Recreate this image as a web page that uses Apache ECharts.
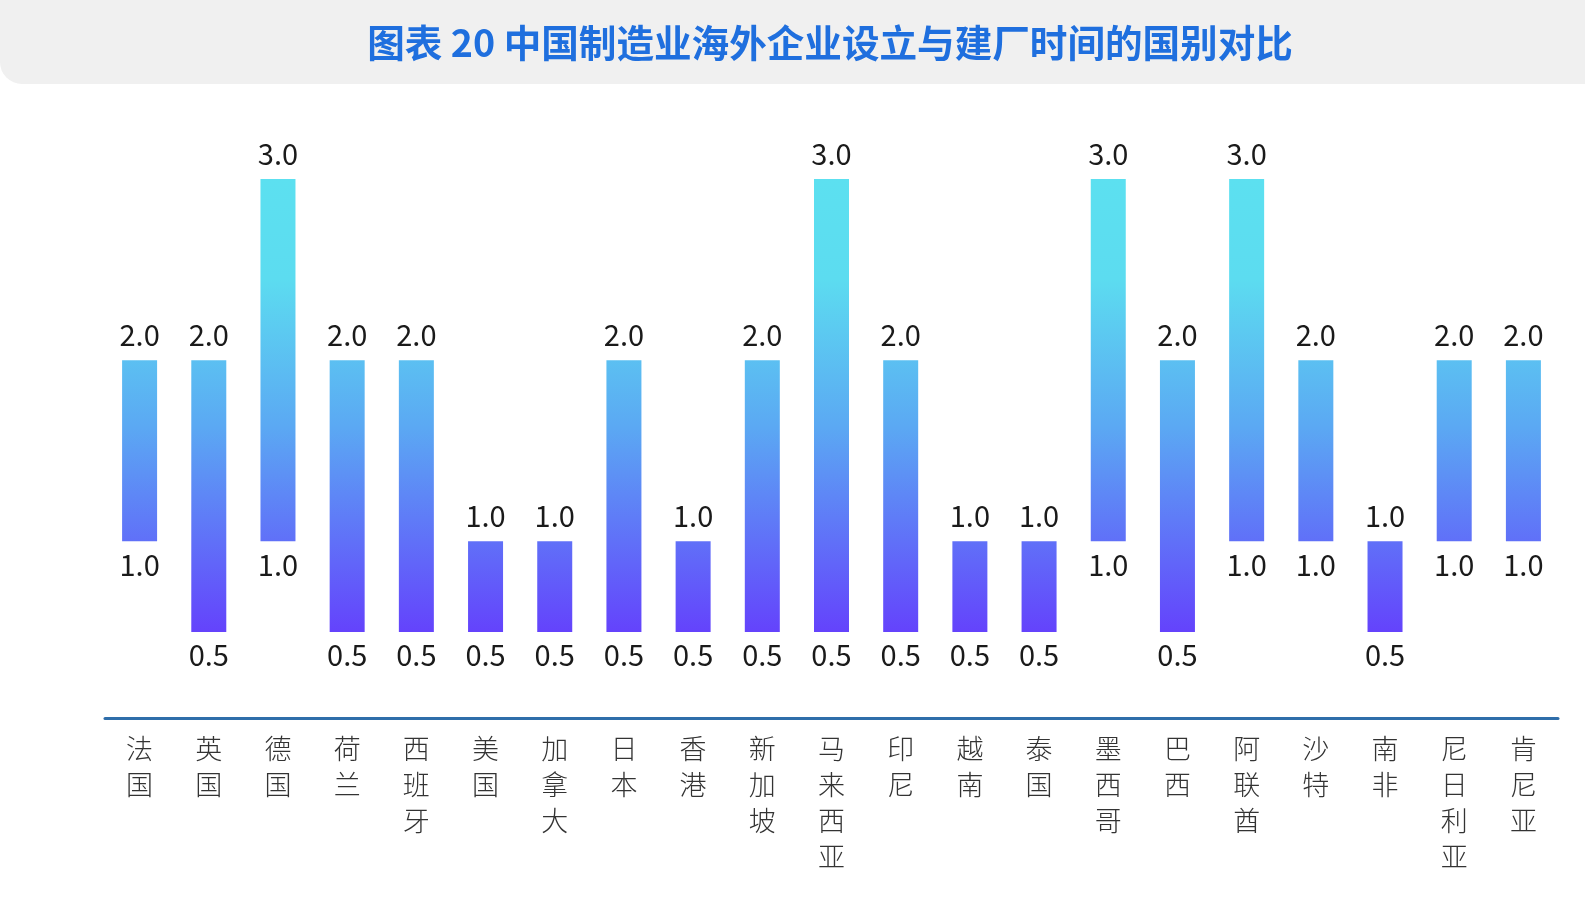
<!DOCTYPE html>
<html>
<head>
<meta charset="utf-8">
<script src="https://cdn.jsdelivr.net/npm/echarts@6/dist/echarts.min.js"></script>
<style>
  html, body { margin: 0; padding: 0; background: #fff; }
  #chart { width: 1585px; height: 909px; }
</style>
</head>
<body>
<div id="chart"></div>
<script>
// 国家 / 设立时间下限 / 上限（年）
var countries = ["法国", "英国", "德国", "荷兰", "西班牙", "美国", "加拿大", "日本", "香港", "新加坡",
  "马来西亚", "印尼", "越南", "泰国", "墨西哥", "巴西", "阿联酋", "沙特", "南非", "尼日利亚", "肯尼亚"];
var lowVals = [1.0, 0.5, 1.0, 0.5, 0.5, 0.5, 0.5, 0.5, 0.5, 0.5,
  0.5, 0.5, 0.5, 0.5, 1.0, 0.5, 1.0, 1.0, 0.5, 1.0, 1.0];
var highVals = [2.0, 2.0, 3.0, 2.0, 2.0, 1.0, 1.0, 2.0, 1.0, 2.0,
  3.0, 2.0, 1.0, 1.0, 3.0, 2.0, 3.0, 2.0, 1.0, 2.0, 2.0];

var chart = echarts.init(document.getElementById("chart"));
var font = "'Noto Sans CJK SC', 'Noto Sans', sans-serif";

var barColor = new echarts.graphic.LinearGradient(0, 179, 0, 632, [
  { offset: 0, color: "#5ce0f0" },
  { offset: 0.22, color: "#5cdcf0" },
  { offset: 0.55, color: "#5ba8f3" },
  { offset: 1, color: "#6443fc" }
], true);

chart.setOption({
  animation: false,
  graphic: [
    {
      type: "rect",
      shape: { x: 0, y: -30, width: 1605, height: 114, r: 22 },
      style: { fill: "#f0f0f0" },
      z: 0
    },
    {
      type: "text",
      x: 830,
      y: 43,
      style: {
        text: "图表 20 中国制造业海外企业设立与建厂时间的国别对比",
        fill: "#1f6fde",
        font: "bold 37.6px " + font,
        textAlign: "center",
        textVerticalAlign: "middle"
      },
      z: 1
    }
  ],
  grid: { left: 105, right: 27, top: 179, bottom: 191 },
  xAxis: {
    type: "category",
    data: countries,
    axisLine: { lineStyle: { color: "#2f6eaa", width: 3 } },
    axisTick: { show: false },
    axisLabel: {
      interval: 0,
      margin: 13,
      color: "#333",
      fontSize: 27,
      fontWeight: 300,
      lineHeight: 36,
      fontFamily: font,
      verticalAlign: "top",
      formatter: function (v) { return v.split("").join("\n"); }
    }
  },
  yAxis: { type: "value", min: 0.025, max: 3, show: false },
  series: [
    {
      type: "bar",
      stack: "range",
      data: lowVals,
      barWidth: 35,
      itemStyle: { color: "transparent" },
      label: {
        show: true,
        position: "insideTop",
        distance: 0,
        offset: [0, 9],
        color: "#1a1a1a",
        fontSize: 29,
        fontWeight: 400,
        fontFamily: font,
        formatter: function (p) { return p.value.toFixed(1); }
      }
    },
    {
      type: "bar",
      stack: "range",
      data: highVals.map(function (h, i) { return h - lowVals[i]; }),
      barWidth: 35,
      itemStyle: { color: barColor },
      label: {
        show: true,
        position: "top",
        distance: 11,
        color: "#1a1a1a",
        fontSize: 29,
        fontWeight: 400,
        fontFamily: font,
        formatter: function (p) { return highVals[p.dataIndex].toFixed(1); }
      }
    }
  ]
});
</script>
</body>
</html>
